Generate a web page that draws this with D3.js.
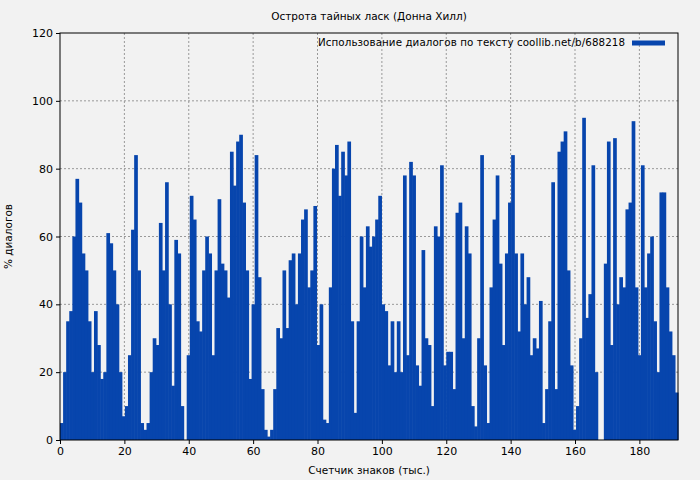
<!DOCTYPE html>
<html><head><meta charset="utf-8">
<script src="https://cdn.jsdelivr.net/npm/d3@7"></script>
<style>body{margin:0;background:#f2f2f2;font-family:"DejaVu Sans",sans-serif}</style>
</head><body><div id="chart"></div>
<script>
// share of dialogue along the text
const values = [5,20,35,38,60,77,70,55,50,35,20,38,28,18,20,61,58,50,40,20,7,10,25,62,84,50,5,3,5,20,30,28,64,50,76,40,16,59,55,10,0,25,72,65,35,32,50,60,55,25,50,71,52,50,42,85,75,88,90,70,50,18,40,84,48,15,3,1,3,15,33,30,50,33,53,55,40,55,65,68,45,50,69,28,40,6,5,45,80,87,72,85,78,88,35,8,35,60,45,63,57,60,65,72,40,38,22,35,20,35,20,78,25,82,78,22,16,56,30,28,10,63,60,81,22,26,26,15,67,70,30,63,55,10,4,30,84,22,5,45,65,78,52,28,55,70,84,55,32,55,40,48,25,30,27,41,5,15,35,76,15,85,88,91,50,22,3,10,30,95,36,43,81,20,0,0,52,88,28,89,40,48,45,68,70,94,45,25,81,45,55,60,35,20,73,73,45,32,25,14];
const totalK = 192;
const xTicks = [0,20,40,60,80,100,120,140,160,180];
const yTicks = [0,20,40,60,80,100,120];
const title = "Острота тайных ласк (Донна Хилл)";
const legendText = "Использование диалогов по тексту coollib.net/b/688218";

const W = 700, H = 480, m = {l:60, r:22, t:33, b:40};
const svg = d3.select('#chart').append('svg').attr('width', W).attr('height', H)
  .style('background', '#f2f2f2');

const x = d3.scaleLinear().domain([0, totalK]).range([m.l, W - m.r]);
const y = d3.scaleLinear().domain([0, 120]).range([H - m.b, m.t]);
const step = totalK / values.length;

// grid
svg.append('g').selectAll('line').data(xTicks.slice(1)).join('line')
  .attr('x1', d => x(d)).attr('x2', d => x(d)).attr('y1', m.t).attr('y2', H - m.b)
  .attr('stroke', '#999').attr('stroke-dasharray', '2,2');
svg.append('g').selectAll('line').data(yTicks.slice(1, -1)).join('line')
  .attr('y1', d => y(d)).attr('y2', d => y(d)).attr('x1', m.l).attr('x2', W - m.r)
  .attr('stroke', '#999').attr('stroke-dasharray', '2,2');

// bars
svg.append('g').selectAll('rect').data(values).join('rect')
  .attr('x', (d, i) => x(i * step)).attr('width', x(step) - x(0) + 0.6)
  .attr('y', d => y(d)).attr('height', d => y(0) - y(d))
  .attr('fill', '#0745ad');

svg.append('rect').attr('x', m.l).attr('y', m.t).attr('width', W - m.l - m.r).attr('height', H - m.t - m.b)
  .attr('fill', 'none').attr('stroke', '#000');

svg.append('g').attr('transform', `translate(0,${H - m.b})`)
  .call(d3.axisBottom(x).tickValues(xTicks).tickSize(4)).call(g => g.select('.domain').remove())
  .selectAll('text').attr('font-size', 11).attr('font-family', 'DejaVu Sans');
svg.append('g').attr('transform', `translate(${m.l},0)`)
  .call(d3.axisLeft(y).tickValues(yTicks).tickSize(4)).call(g => g.select('.domain').remove())
  .selectAll('text').attr('font-size', 11).attr('font-family', 'DejaVu Sans');

svg.append('text').attr('x', (m.l + W - m.r) / 2).attr('y', 20).attr('text-anchor', 'middle')
  .attr('font-size', 10.5).text(title);
svg.append('text').attr('x', (m.l + W - m.r) / 2).attr('y', H - 6).attr('text-anchor', 'middle')
  .attr('font-size', 10.5).text('Счетчик знаков (тыс.)');
svg.append('text').attr('transform', `translate(12,${(m.t + H - m.b) / 2}) rotate(-90)`)
  .attr('text-anchor', 'middle').attr('font-size', 10.5).text('% диалогов');

// legend
svg.append('text').attr('x', 625).attr('y', 46).attr('text-anchor', 'end').attr('font-size', 10.3)
  .attr('textLength', 307).text(legendText);
svg.append('line').attr('x1', 632).attr('x2', 665).attr('y1', 43).attr('y2', 43)
  .attr('stroke', '#0745ad').attr('stroke-width', 5);
</script></body></html>
